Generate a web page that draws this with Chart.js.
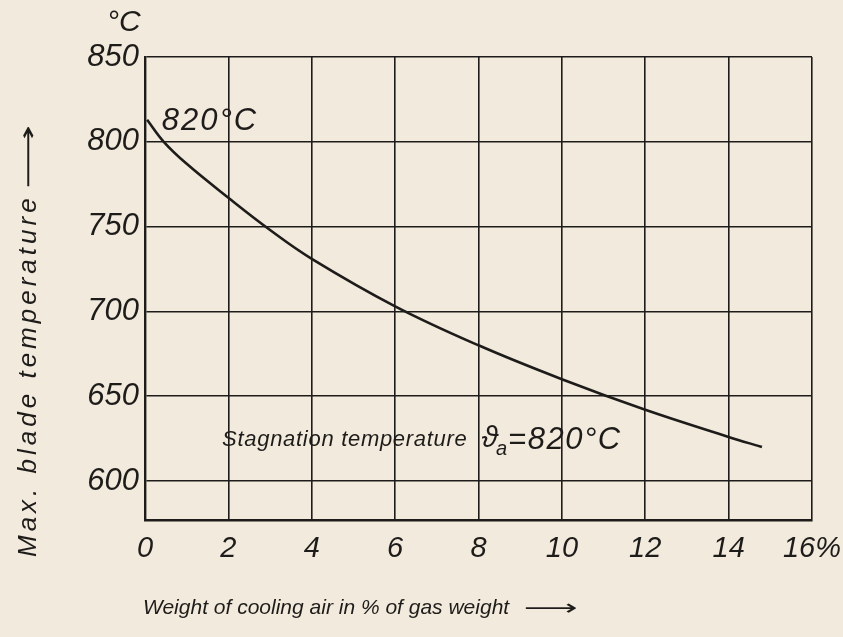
<!DOCTYPE html>
<html>
<head>
<meta charset="utf-8">
<script src="https://cdn.jsdelivr.net/npm/chart.js@4"></script>
<style>
  html, body { margin: 0; padding: 0; background: #f2eadc; }
  #wrap { width: 843px; height: 637px; }
</style>
</head>
<body>
<div id="wrap"><canvas id="myChart" width="843" height="637"></canvas></div>
<script>
// values
const coolingAir = [0.05, 0.45, 1, 2, 3, 4, 6, 8, 10, 12, 14, 14.8]
const bladeTemp = [813, 800, 787, 767, 748, 731, 703, 680, 660, 642, 626, 620]
const xTicks = [0, 2, 4, 6, 8, 10, 12, 14, 16]
const yTicks = [600, 650, 700, 750, 800, 850]

const ink = '#1e1c1a'
const font = '"Liberation Sans", "DejaVu Sans", sans-serif'

// long arrow glyph stretched to a given length
function arrow(c, x, y, len, size) {
  c.save()
  c.letterSpacing = '0px'
  c.font = size + 'px "DejaVu Sans", sans-serif'
  const w = c.measureText('⟶').width
  c.translate(x, y)
  c.scale(len / w, 1)
  c.fillText('⟶', 0, 0)
  c.restore()
}

const paperText = {
  id: 'paperText',
  afterDraw(chart) {
    const c = chart.ctx
    const xs = chart.scales.x
    const ys = chart.scales.y
    c.save()
    c.fillStyle = ink
    c.textBaseline = 'middle'
    c.textAlign = 'left'

    // unit above y axis
    c.font = 'italic 30px ' + font
    c.fillText('°C', 107, 23)

    // start value label
    c.font = 'italic 31px ' + font
    c.letterSpacing = '2px'
    c.fillText('820°C', xs.getPixelForValue(0.4), ys.getPixelForValue(812))

    // stagnation temperature note
    let px = xs.getPixelForValue(1.85)
    const py = ys.getPixelForValue(624)
    c.letterSpacing = '0.7px'
    c.font = 'italic 22px ' + font
    c.fillText('Stagnation temperature', px, py)
    px += c.measureText('Stagnation temperature').width + 14
    c.letterSpacing = '0px'
    c.font = 'italic 30px ' + font
    c.fillText('ϑ', px, py - 2)
    px += c.measureText('ϑ').width - 2
    c.font = 'italic 20px ' + font
    c.fillText('a', px, py + 9)
    px += c.measureText('a').width + 1
    c.letterSpacing = '1.5px'
    c.font = 'italic 31px ' + font
    c.fillText('=820°C', px, py)

    // x axis title
    c.letterSpacing = '0px'
    c.font = 'italic 21px ' + font
    c.fillText('Weight of cooling air in % of gas weight', 143, 608)
    arrow(c, 524, 609, 54, 22)

    // y axis title
    c.translate(29, 557)
    c.rotate(-Math.PI / 2)
    c.letterSpacing = '4px'
    c.font = 'italic 26px ' + font
    c.fillText('Max. blade temperature', 0, 0)
    const w = c.measureText('Max. blade temperature').width
    arrow(c, w + 6, 1, 64, 24)
    c.restore()
  }
}

const ctx = document.getElementById('myChart').getContext('2d')
const myChart = new Chart(ctx, {
  type: 'line',
  data: {
    datasets: [{
      label: 'Max. blade temperature',
      data: coolingAir.map((x, i) => ({ x: x, y: bladeTemp[i] })),
      borderColor: ink,
      borderWidth: 2.6,
      pointRadius: 0,
      tension: 0.4,
      fill: false
    }]
  },
  options: {
    responsive: false,
    animation: false,
    layout: { padding: { left: 0, top: 57, right: 31, bottom: 0 } },
    plugins: {
      legend: { display: false },
      tooltip: { enabled: false }
    },
    scales: {
      x: {
        type: 'linear',
        min: 0,
        max: 16,
        afterBuildTicks(scale) { scale.ticks = xTicks.map(v => ({ value: v })) },
        afterFit(scale) {
          scale.height = 117
          scale.paddingLeft = 0
          scale.paddingRight = 0
        },
        grid: { color: ink, lineWidth: 1.6, drawTicks: false },
        border: { color: ink, width: 2.4 },
        ticks: {
          color: ink,
          padding: 12,
          font: { family: font, size: 29, style: 'italic' },
          callback: v => v === 16 ? '16%' : v
        }
      },
      y: {
        min: 577,
        max: 850,
        afterBuildTicks(scale) { scale.ticks = yTicks.map(v => ({ value: v })) },
        afterFit(scale) {
          scale.width = 145
          scale.paddingTop = 0
          scale.paddingBottom = 0
        },
        grid: { color: ink, lineWidth: 1.6, drawTicks: false },
        border: { color: ink, width: 2.4 },
        ticks: {
          color: ink,
          padding: 6,
          font: { family: font, size: 31, style: 'italic' }
        }
      }
    }
  },
  plugins: [paperText]
})
</script>
</body>
</html>
